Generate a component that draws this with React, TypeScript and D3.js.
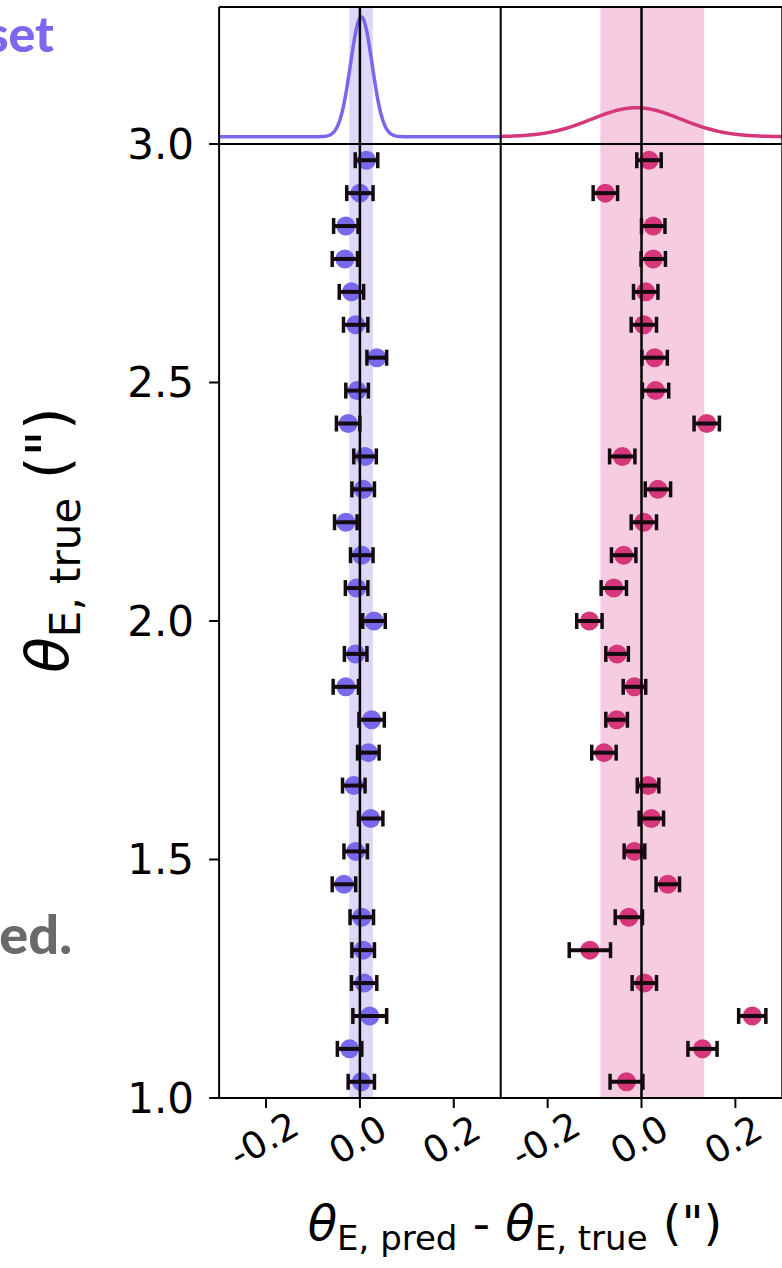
import React from 'react';
import * as d3 from 'd3';

const W = 782;
const H = 1268;

// theta_E,true of each row (top to bottom)
const thetaTrue = [2.966, 2.897, 2.828, 2.759, 2.690, 2.621, 2.552, 2.483, 2.414, 2.345, 2.276, 2.207, 2.138, 2.069, 2.000, 1.931, 1.862, 1.793, 1.724, 1.655, 1.586, 1.517, 1.448, 1.379, 1.310, 1.241, 1.172, 1.103, 1.034];

// left panel (blue) residuals and errors
const blueResid = [0.014, 0.000, -0.030, -0.032, -0.018, -0.009, 0.036, -0.006, -0.025, 0.011, 0.007, -0.030, 0.004, -0.007, 0.030, -0.009, -0.030, 0.025, 0.018, -0.013, 0.023, -0.009, -0.034, 0.004, 0.007, 0.009, 0.021, -0.022, 0.003];
const blueErr = [0.024, 0.028, 0.026, 0.027, 0.026, 0.026, 0.021, 0.024, 0.025, 0.024, 0.024, 0.024, 0.024, 0.024, 0.024, 0.024, 0.027, 0.027, 0.023, 0.024, 0.026, 0.025, 0.025, 0.025, 0.024, 0.027, 0.036, 0.026, 0.028];

// right panel (pink) residuals and errors
const pinkResid = [0.016, -0.077, 0.025, 0.025, 0.009, 0.005, 0.028, 0.030, 0.139, -0.041, 0.035, 0.005, -0.038, -0.059, -0.111, -0.052, -0.015, -0.053, -0.080, 0.014, 0.021, -0.015, 0.056, -0.027, -0.110, 0.006, 0.236, 0.130, -0.032];
const pinkErr = [0.026, 0.026, 0.025, 0.026, 0.026, 0.027, 0.027, 0.028, 0.027, 0.027, 0.027, 0.027, 0.026, 0.027, 0.027, 0.024, 0.024, 0.023, 0.026, 0.023, 0.026, 0.022, 0.025, 0.029, 0.044, 0.026, 0.029, 0.031, 0.035];

// shaded bands [lo, hi]
const blueBand = [-0.021, 0.026];
const pinkBand = [-0.086, 0.132];

// gaussian fit params [mu, sigma]
const blueFit = [0.003, 0.023];
const pinkFit = [-0.011, 0.095];

const yTicks = [1.0, 1.5, 2.0, 2.5, 3.0];
const yTickLabels = ['1.0', '1.5', '2.0', '2.5', '3.0'];
const xTicks = [-0.2, 0.0, 0.2];
const xTickLabels = ['-0.2', '0.0', '0.2'];

const BLUE = '#7868ec';
const PINK = '#d6377a';
const BLUE_BAND = '#dcd8f6';
const PINK_BAND = '#f6cde0';

const FONT = 'DejaVu Sans';

const X0 = 219.1, XM = 500.7, X1 = 782.3;
const YT = 7, YB = 144, YBOT = 1098;

function gauss(x: number, mu: number, s: number) {
  return Math.exp(-0.5 * ((x - mu) / s) ** 2) / (s * Math.sqrt(2 * Math.PI));
}

export default function App() {
  const xL = d3.scaleLinear().domain([-0.3, 0.3]).range([X0, XM]);
  const xR = d3.scaleLinear().domain([-0.3, 0.3]).range([XM, X1]);
  const y = d3.scaleLinear().domain([1, 3]).range([YBOT, YB]);
  const peak = gauss(blueFit[0], blueFit[0], blueFit[1]);
  const yTop = d3.scaleLinear().domain([0, peak]).range([136.7, 17]);

  const xsL = d3.range(-0.3, 0.3001, 0.002);
  const line = (xs: d3.ScaleLinear<number, number>, fit: number[]) =>
    d3.line<number>().x((d) => xs(d)).y((d) => yTop(gauss(d, fit[0], fit[1])))(xsL) || '';

  const panel = (
    xs: d3.ScaleLinear<number, number>,
    resid: number[],
    err: number[],
    band: number[],
    color: string,
    bandColor: string,
    fit: number[],
    key: string
  ) => (
    <g key={key}>
      <rect x={xs(band[0])} y={YT} width={xs(band[1]) - xs(band[0])} height={YBOT - YT} fill={bandColor} stroke={bandColor} strokeWidth={1.5} />
      <path d={line(xs, fit)} fill="none" stroke={color} strokeWidth={3.5} />
      {resid.map((v, i) => (
        <circle key={'c' + i} cx={xs(v)} cy={y(thetaTrue[i])} r={9.5} fill={color} />
      ))}
      <line x1={xs(0)} x2={xs(0)} y1={YT} y2={YBOT} stroke="#000" strokeWidth={2.5} />
      {resid.map((v, i) => {
        const cy = y(thetaTrue[i]);
        const a = xs(v - err[i]);
        const b = xs(v + err[i]);
        return (
          <g key={'e' + i} stroke="#140a10" strokeWidth={4}>
            <line x1={a} x2={b} y1={cy} y2={cy} />
            <line x1={a} x2={a} y1={cy - 8} y2={cy + 8} strokeWidth={3.5} />
            <line x1={b} x2={b} y1={cy - 8} y2={cy + 8} strokeWidth={3.5} />
          </g>
        );
      })}
      {xTicks.map((t, i) => (
        <g key={'xt' + i}>
          <line x1={xs(t)} x2={xs(t)} y1={YBOT} y2={YBOT + 10} stroke="#000" strokeWidth={2} />
          <text
            transform={`translate(${xs(t) - 2},${1140}) rotate(-30)`}
            textAnchor="middle"
            dominantBaseline="central"
            fontFamily={FONT}
            fontSize={37}
            fill="#000"
          >
            {xTickLabels[i]}
          </text>
        </g>
      ))}
    </g>
  );

  return (
    <svg width={W} height={H} style={{ position: 'absolute', left: 0, top: 0, background: '#fff' }}>
      <rect x={0} y={0} width={W} height={H} fill="#fff" />
      <text x={54} y={52} textAnchor="end" fontFamily="Lato" fontWeight={900} fontSize={50} fill="#7b68ee">set</text>
      <text x={72} y={954} textAnchor="end" fontFamily="Lato" fontWeight={900} fontSize={54} fill="#6a6a6a">ed.</text>

      {panel(xL, blueResid, blueErr, blueBand, BLUE, BLUE_BAND, blueFit, 'L')}
      {panel(xR, pinkResid, pinkErr, pinkBand, PINK, PINK_BAND, pinkFit, 'R')}

      {/* frame */}
      <g stroke="#000" strokeWidth={2} fill="none">
        <line x1={X0} x2={X1} y1={YT} y2={YT} />
        <line x1={X0 - 10} x2={X1} y1={YB} y2={YB} />
        <line x1={X0} x2={X1} y1={YBOT} y2={YBOT} />
        <line x1={X0} x2={X0} y1={YT} y2={YBOT} />
        <line x1={XM} x2={XM} y1={YT} y2={YBOT} />
        <line x1={X1} x2={X1} y1={YT} y2={YBOT} />
      </g>

      {yTicks.map((t, i) => (
        <g key={'yt' + i}>
          <line x1={X0 - 10} x2={X0} y1={y(t)} y2={y(t)} stroke="#000" strokeWidth={2} />
          <text x={194} y={y(t)} textAnchor="end" dominantBaseline="central" fontFamily={FONT} fontSize={42} fill="#000">
            {yTickLabels[i]}
          </text>
        </g>
      ))}

      <text transform="translate(68,540) rotate(-90)" textAnchor="middle" fontFamily={FONT} fontSize={58} fill="#000">
        <tspan fontStyle="italic">θ</tspan>
        <tspan fontSize={42} dy={12}>E, true</tspan>
        <tspan dy={-12}> (")</tspan>
      </text>

      <text x={515} y={1240} textAnchor="middle" fontFamily={FONT} fontSize={48} fill="#000">
        <tspan fontStyle="italic">θ</tspan>
        <tspan fontSize={34} dy={10}>E, pred</tspan>
        <tspan dy={-10}> - </tspan>
        <tspan fontStyle="italic">θ</tspan>
        <tspan fontSize={34} dy={10}>E, true</tspan>
        <tspan dy={-10}> (")</tspan>
      </text>
    </svg>
  );
}
